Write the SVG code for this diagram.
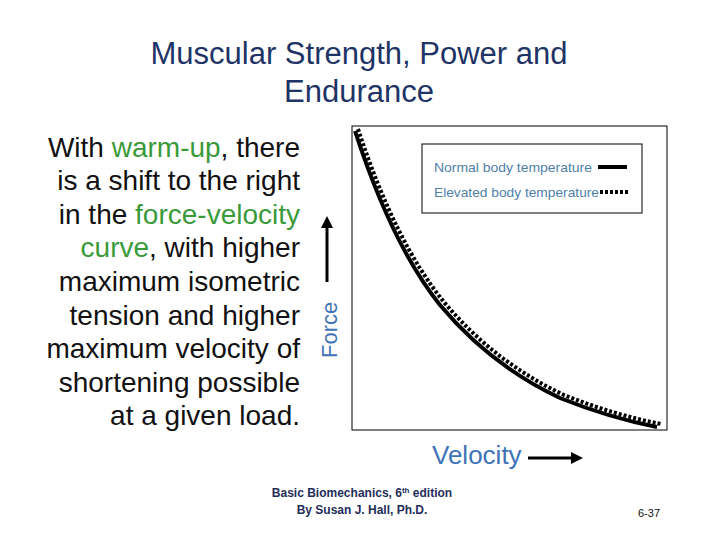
<svg xmlns="http://www.w3.org/2000/svg" width="720" height="540" viewBox="0 0 720 540">
<style>
.t{font-family:"Liberation Sans",Arial,sans-serif}
.b{font-size:28px;fill:#111}
.g{fill:#3a9a3a}
.lg{font-size:13px;fill:#4f7fa8}
</style>
<defs><marker id="ah" markerWidth="4" markerHeight="4" refX="2" refY="2" orient="auto"><path d="M0,0L4,2L0,4z" fill="#000"/></marker></defs>
<rect width="720" height="540" fill="#fff"/>
<g id="title" class="t" font-size="31" fill="#1f3466" text-anchor="middle">
<text x="359" y="64">Muscular Strength, Power and</text>
<text x="359" y="102">Endurance</text>
</g>
<g id="body" class="t b" text-anchor="end">
<text x="300" y="157">With <tspan class="g">warm-up</tspan>, there</text>
<text x="300" y="190">is a shift to the right</text>
<text x="300" y="224">in the <tspan class="g">force-velocity</tspan></text>
<text x="300" y="257"><tspan class="g">curve</tspan>, with higher</text>
<text x="300" y="291">maximum isometric</text>
<text x="300" y="325">tension and higher</text>
<text x="300" y="358">maximum velocity of</text>
<text x="300" y="392">shortening possible</text>
<text x="300" y="425">at a given load.</text>
</g>
<g id="chart">
<rect x="352" y="126" width="315" height="304" fill="none" stroke="#000" stroke-width="1"/>
<path d="M355,131 Q392,245 440,305 Q490,365 560,398 Q610,418 657,427" fill="none" stroke="#000" stroke-width="4"/>
<path d="M358,129 Q395,242 444,302 Q494,362 564,395 Q614,415 661,424" fill="none" stroke="#000" stroke-width="4" stroke-dasharray="3,2"/>
</g>
<g id="legend">
<rect x="422" y="144" width="220" height="69" fill="#fff" stroke="#000" stroke-width="1"/>
<text class="t lg" x="434" y="172" textLength="158" lengthAdjust="spacingAndGlyphs">Normal body temperature</text>
<text class="t lg" x="434" y="197" textLength="165" lengthAdjust="spacingAndGlyphs">Elevated body temperature</text>
<line x1="598" y1="167" x2="627" y2="167" stroke="#000" stroke-width="4"/>
<line x1="600" y1="192" x2="630" y2="192" stroke="#000" stroke-width="4" stroke-dasharray="3,2"/>
</g>
<g id="connectors">
<line x1="327" y1="282" x2="327" y2="222" stroke="#000" stroke-width="3" marker-end="url(#ah)"/>
<line x1="528" y1="458" x2="577" y2="458" stroke="#000" stroke-width="3" marker-end="url(#ah)"/>
</g>
<g id="axes" class="t" fill="#3f73b8">
<text transform="translate(337,358) rotate(-90)" font-size="22">Force</text>
<text x="432" y="464" font-size="26">Velocity</text>
</g>
<g id="footer" class="t" font-size="12" fill="#1f2d5a">
<text x="362" y="497" text-anchor="middle" font-weight="bold">Basic Biomechanics, 6<tspan font-size="8" dy="-4">th</tspan><tspan dy="4"> edition</tspan></text>
<text x="362" y="514" text-anchor="middle" font-weight="bold">By Susan J. Hall, Ph.D.</text>
<text x="649" y="517" text-anchor="middle" fill="#111" font-size="11">6-37</text>
</g>
</svg>
